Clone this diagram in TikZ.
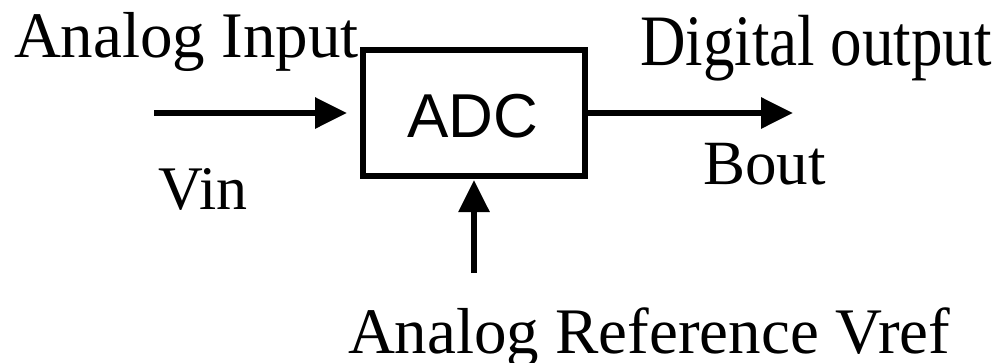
\documentclass[tikz,border=0pt]{standalone}
\usepackage{fontspec}
\setmainfont{Liberation Serif}
\newfontfamily\arialfont{Liberation Sans}
\usetikzlibrary{arrows.meta}
\tikzset{
  lbl/.style={inner sep=0pt, outer sep=0pt, anchor=base west},
  blk/.style={draw, line width=6pt, minimum width=222pt, minimum height=126pt, inner sep=0pt, outer sep=0pt},
  sig/.style={line width=6pt, -{Triangle[length=32pt,width=30pt]}}
}
\begin{document}
\begin{tikzpicture}[x=1pt,y=-1pt]
\useasboundingbox (0,0) rectangle (1001,362);
\node[blk] (adc) at (474,113) {};
\node[inner sep=0pt, anchor=base, font=\arialfont\fontsize{62}{74}\selectfont] (adct) at (472.5,137) {ADC};
\node[lbl, font=\fontsize{65}{78}\selectfont] (ain) at (14,57) {Analog Input};
\node[lbl, font=\fontsize{63}{76}\selectfont, yscale=1.15] (dout) at (640,65) {Digital output};
\node[lbl, font=\fontsize{62}{74}\selectfont] (vin) at (158,209) {Vin};
\node[lbl, font=\fontsize{63}{76}\selectfont] (bout) at (703,184) {Bout};
\node[lbl, font=\fontsize{65}{78}\selectfont] (aref) at (348,353) {Analog Reference Vref};
\coordinate (inS) at (154,113);
\coordinate (outE) at (793,113);
\coordinate (refS) at (474,273);
\draw[sig, shorten >=16pt] (inS) -- (adc.west);
\draw[sig] (adc.east) -- (outE);
\draw[sig, shorten >=4pt] (refS) -- (adc.south);
\end{tikzpicture}
\end{document}
